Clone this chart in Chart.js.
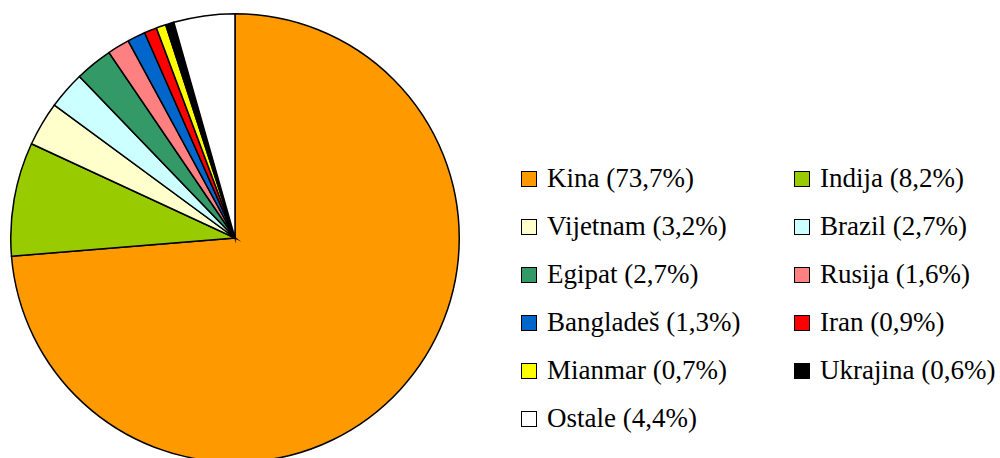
<!DOCTYPE html>
<html>
<head>
<meta charset="utf-8">
<script src="https://cdn.jsdelivr.net/npm/chart.js@4/dist/chart.umd.min.js"></script>
<style>
  html, body { margin: 0; padding: 0; background: #fff; width: 1000px; height: 458px; overflow: hidden; }
  #pieWrap { position: absolute; left: 10px; top: 13px; width: 450px; height: 450px; }
  #legend { position: absolute; left: 521px; top: 154px; font-family: 'Liberation Serif', 'Times New Roman', serif; font-size: 27px; color: #000; }
  .item { position: absolute; white-space: nowrap; height: 48px; line-height: 48px; }
  .box { display: inline-block; width: 14px; height: 14px; border: 1.5px solid #000; vertical-align: middle; margin-right: 10px; position: relative; top: -2px; }
</style>
</head>
<body>
<div id="pieWrap"><canvas id="c" width="450" height="450"></canvas></div>
<div id="legend"></div>
<script>
const countries = ["Kina", "Indija", "Vijetnam", "Brazil", "Egipat", "Rusija", "Bangladeš", "Iran", "Mianmar", "Ukrajina", "Ostale"];
const shares = [73.7, 8.2, 3.2, 2.7, 2.7, 1.6, 1.3, 0.9, 0.7, 0.6, 4.4];
const colors = ["#FF9900", "#99CC00", "#FFFFCC", "#CCFFFF", "#339966", "#FF8080", "#0066CC", "#FF0000", "#FFFF00", "#000000", "#FFFFFF"];

const fmt = v => v.toFixed(1).replace(".", ",");
const labels = countries.map((c, i) => c + " (" + fmt(shares[i]) + "%)");

new Chart(document.getElementById("c"), {
  type: "pie",
  data: {
    labels: labels,
    datasets: [{
      data: shares,
      backgroundColor: colors,
      borderColor: "#000",
      borderWidth: 1.5,
      borderJoinStyle: "miter"
    }]
  },
  options: {
    responsive: false,
    animation: false,
    layout: { padding: 0 },
    plugins: { legend: { display: false }, tooltip: { enabled: false } }
  }
});

const legend = document.getElementById("legend");
labels.forEach((t, i) => {
  const d = document.createElement("div");
  d.className = "item";
  d.style.left = (i % 2 === 0 ? 0 : 273) + "px";
  d.style.top = (Math.floor(i / 2) * 48) + "px";
  const b = document.createElement("span");
  b.className = "box";
  b.style.background = colors[i];
  d.appendChild(b);
  d.appendChild(document.createTextNode(t));
  legend.appendChild(d);
});
</script>
</body>
</html>
